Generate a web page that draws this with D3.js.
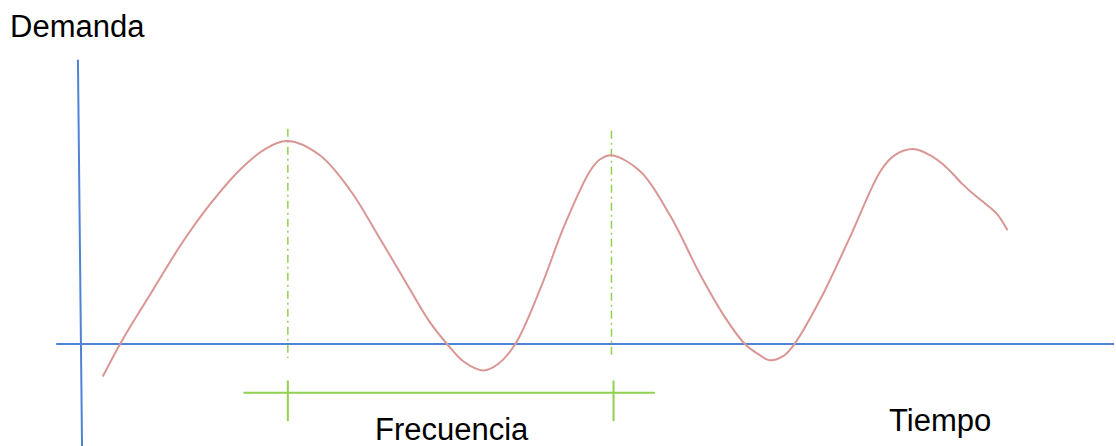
<!DOCTYPE html>
<html>
<head>
<meta charset="utf-8">
<script src="https://cdn.jsdelivr.net/npm/d3@7"></script>
<style>
  html, body { margin: 0; padding: 0; background: #fff; }
  svg { display: block; }
  text { font-family: "Liberation Sans", Arial, sans-serif; fill: #000; }
</style>
</head>
<body>
<svg id="chart" width="1116" height="446"></svg>
<script>
// ---- data (time units, demand units) ----
const curveT = [0.22, 0.41, 0.71, 0.99, 1.26, 1.55, 1.79, 2.01, 2.32, 2.61, 2.90, 3.19, 3.38, 3.55, 3.72, 3.90, 4.04, 4.21, 4.45, 4.69, 4.93, 5.03, 5.14, 5.42, 5.71, 6.00, 6.24, 6.43, 6.56, 6.67, 6.80, 6.91, 7.16, 7.45, 7.74, 7.88, 8.06, 8.22, 8.38, 8.53, 8.66, 8.76, 8.87, 8.97];
const curveD = [-0.16, 0.02, 0.27, 0.50, 0.69, 0.86, 0.96, 1.00, 0.93, 0.76, 0.52, 0.27, 0.11, 0.00, -0.09, -0.13, -0.10, 0.00, 0.27, 0.59, 0.85, 0.91, 0.93, 0.85, 0.63, 0.34, 0.13, 0.00, -0.05, -0.08, -0.06, 0.00, 0.22, 0.53, 0.85, 0.93, 0.96, 0.93, 0.87, 0.79, 0.73, 0.69, 0.64, 0.56];
const peakT = [2.01, 5.14];
const peakTop = [1.06, 1.05];
const peakBottom = -0.07;
const bracketStart = 1.58;
const bracketEnd = 5.56;
const bracketTicks = [2.01, 5.16];
const bracketLevel = -0.24;
const yLabel = "Demanda";
const xLabel = "Tiempo";
const bracketLabel = "Frecuencia";

// ---- scales ----
const x = d3.scaleLinear().domain([0, 10]).range([80, 1114]);
const y = d3.scaleLinear().domain([0, 1]).range([344, 141]);

const svg = d3.select("#chart");
const blue = "#4f83d6";
const green = "#92d050";
const red = "#d99694";

// axes
svg.append("line")
  .attr("x1", x(-0.23)).attr("x2", x(10))
  .attr("y1", y(0)).attr("y2", y(0))
  .attr("stroke", blue).attr("stroke-width", 2);
svg.append("line")
  .attr("x1", x(-0.02)).attr("x2", x(0.02))
  .attr("y1", y(1.4)).attr("y2", y(-0.52))
  .attr("stroke", blue).attr("stroke-width", 2);

// peak markers
svg.selectAll("line.peak").data(peakT).join("line")
  .attr("class", "peak")
  .attr("x1", d => x(d)).attr("x2", d => x(d))
  .attr("y1", (d, i) => y(peakTop[i])).attr("y2", y(peakBottom))
  .attr("stroke", green).attr("stroke-width", 1.5)
  .attr("stroke-dasharray", "8,4,2,4");

// curve
const pts = curveT.map((t, i) => [t, curveD[i]]);
svg.append("path")
  .datum(pts)
  .attr("fill", "none")
  .attr("stroke", red)
  .attr("stroke-width", 2)
  .attr("d", d3.line().x(d => x(d[0])).y(d => y(d[1])).curve(d3.curveCatmullRom.alpha(0.5)));

// bracket
svg.append("line")
  .attr("x1", x(bracketStart)).attr("x2", x(bracketEnd))
  .attr("y1", y(bracketLevel)).attr("y2", y(bracketLevel))
  .attr("stroke", green).attr("stroke-width", 2);
svg.selectAll("line.tick").data(bracketTicks).join("line")
  .attr("class", "tick")
  .attr("x1", d => x(d)).attr("x2", d => x(d))
  .attr("y1", y(-0.18)).attr("y2", y(-0.38))
  .attr("stroke", green).attr("stroke-width", 2);

// labels
svg.append("text").attr("x", 10).attr("y", 37).attr("font-size", 31).text(yLabel);
svg.append("text").attr("x", 375).attr("y", 440).attr("font-size", 31).text(bracketLabel);
svg.append("text").attr("x", 889).attr("y", 431).attr("font-size", 31).text(xLabel);
</script>
</body>
</html>
